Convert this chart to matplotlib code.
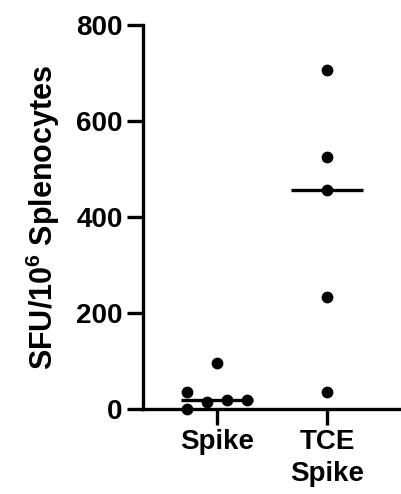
import numpy as np
import matplotlib
matplotlib.use("Agg")
from matplotlib import pyplot as plt

# values (SFU per 10^6 splenocytes)
groups = ["Spike", "TCE\nSpike"]
spike = [0, 15, 19, 19, 35, 95]
tce_spike = [36, 234, 456, 524, 706]
yticks = [0, 200, 400, 600, 800]

plt.rcParams['font.family'] = ['Liberation Sans', 'DejaVu Sans']
plt.rcParams['font.weight'] = 'bold'
plt.rcParams['mathtext.fontset'] = 'custom'
plt.rcParams['mathtext.bf'] = 'Liberation Sans:bold'
plt.rcParams['mathtext.rm'] = 'Liberation Sans:bold'
plt.rcParams['mathtext.default'] = 'bf'


def swarm(vals, near=40, maxcols=4, step=0.18):
    # simple swarm: points crowded together get dealt round-robin into columns
    vals = np.sort(np.asarray(vals, dtype=float))
    offs = np.zeros(len(vals))
    i = 0
    while i < len(vals):
        j = i
        while j + 1 < len(vals) and vals[j + 1] - vals[j] < near:
            j += 1
        n = j - i + 1
        if n > 1:
            ncol = min(n, maxcols)
            cols = (np.arange(ncol) - (ncol - 1) / 2) * step
            for k in range(n):
                offs[i + k] = cols[k % ncol]
        i = j + 1
    return vals, offs


fig = plt.figure(figsize=(4.02, 4.94), dpi=100)
ax = fig.add_axes([143 / 402, 85 / 494, 1 - 143 / 402, 384 / 494])

lw = 2.4
for x, data in enumerate([spike, tce_spike]):
    v, o = swarm(data)
    ax.scatter(x + o, v, s=72, color='black', zorder=3, clip_on=False,
               linewidths=0)
    ax.hlines(np.median(data), x - 0.33, x + 0.33, color='black', lw=lw,
              zorder=2)

ax.set_xlim(-0.673, 1.682)
ax.set_ylim(0, 800)
ax.set_yticks(yticks)
ax.set_xticks(range(len(groups)))
ax.set_xticklabels(groups, fontsize=20, fontweight='bold', linespacing=1.3)
ax.tick_params(axis='y', labelsize=20, width=lw, length=11.5, pad=3)
ax.tick_params(axis='x', width=lw, length=11.5, pad=3)
for lab in ax.get_yticklabels():
    lab.set_fontweight('bold')

ax.spines['top'].set_visible(False)
ax.spines['right'].set_visible(False)
ax.spines['left'].set_linewidth(lw)
ax.spines['bottom'].set_linewidth(lw)

ax.set_ylabel("SFU/10$^6$ Splenocytes", fontsize=22, fontweight='bold',
              labelpad=10)

fig.savefig("out.png", dpi=100)
